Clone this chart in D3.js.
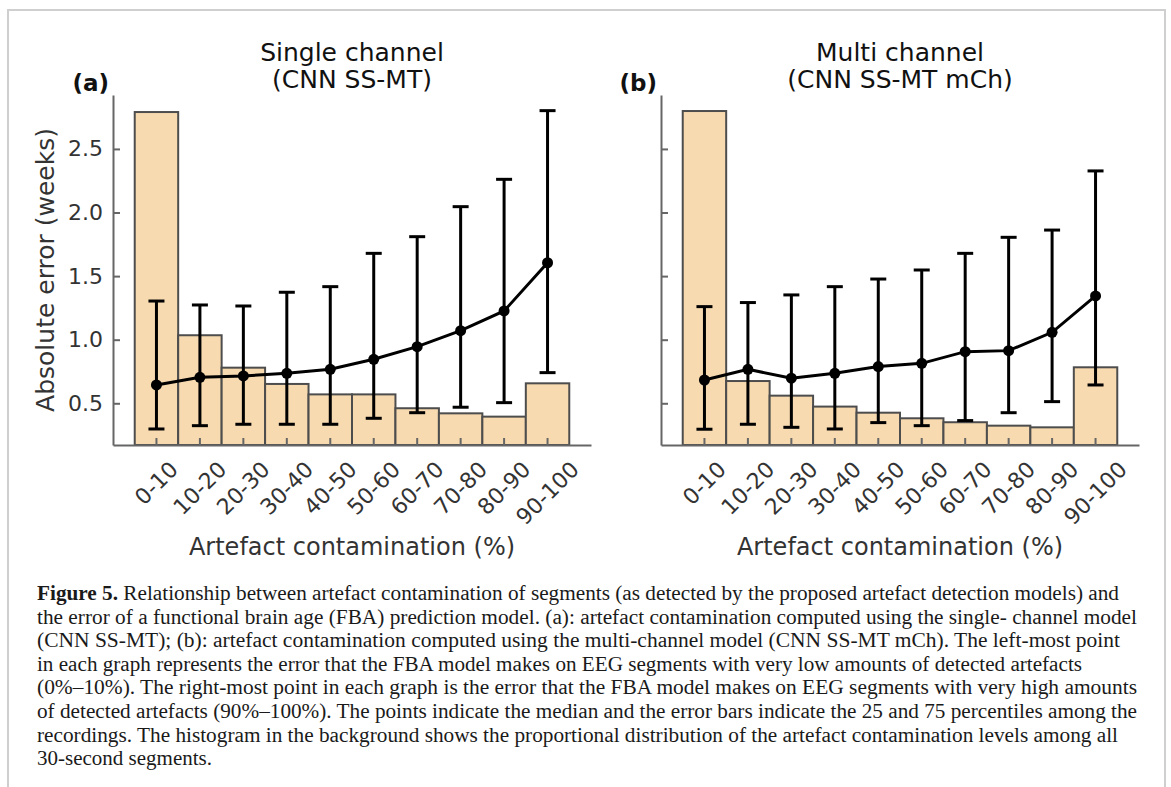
<!DOCTYPE html>
<html lang="en">
  <head>
    <meta charset="UTF-8" />
    <script src="https://d3js.org/d3.v7.min.js"></script>
    <title>Figure 5</title>
    <style>
      body { margin: 0; background: #fff; }
      svg { display: block; }
      .tick text { font-family: 'DejaVu Sans', sans-serif; }
    </style>
  </head>
  <body>
    <script>
      const width = 1171
      const height = 787

      // data
      const categories = ['0-10', '10-20', '20-30', '30-40', '40-50', '50-60', '60-70', '70-80', '80-90', '90-100']
      const yTicks = [0.5, 1.0, 1.5, 2.0, 2.5]

      const histSingle = [2.79, 1.035, 0.78, 0.652, 0.57, 0.57, 0.461, 0.421, 0.395, 0.657]
      const medianSingle = [0.644, 0.704, 0.715, 0.736, 0.767, 0.846, 0.945, 1.071, 1.226, 1.605]
      const q25Single = [0.298, 0.324, 0.335, 0.335, 0.335, 0.382, 0.426, 0.469, 0.505, 0.741]
      const q75Single = [1.304, 1.273, 1.265, 1.373, 1.417, 1.679, 1.81, 2.046, 2.261, 2.801]

      const histMulti = [2.798, 0.675, 0.56, 0.474, 0.426, 0.382, 0.351, 0.324, 0.311, 0.783]
      const medianMulti = [0.683, 0.767, 0.697, 0.736, 0.789, 0.814, 0.906, 0.914, 1.058, 1.344]
      const q25Multi = [0.296, 0.335, 0.311, 0.298, 0.348, 0.324, 0.364, 0.426, 0.513, 0.644]
      const q75Multi = [1.26, 1.292, 1.352, 1.417, 1.477, 1.548, 1.679, 1.805, 1.862, 2.327]

      const captionLines = [
        ['Figure 5.', ' Relationship between artefact contamination of segments (as detected by the proposed artefact detection models) and'],
        ['', 'the error of a functional brain age (FBA) prediction model. (a): artefact contamination computed using the single- channel model'],
        ['', '(CNN SS-MT); (b): artefact contamination computed using the multi-channel model (CNN SS-MT mCh). The left-most point'],
        ['', 'in each graph represents the error that the FBA model makes on EEG segments with very low amounts of detected artefacts'],
        ['', '(0%\u201310%). The right-most point in each graph is the error that the FBA model makes on EEG segments with very high amounts'],
        ['', 'of detected artefacts (90%\u2013100%). The points indicate the median and the error bars indicate the 25 and 75 percentiles among the'],
        ['', 'recordings. The histogram in the background shows the proportional distribution of the artefact contamination levels among all'],
        ['', '30-second segments.']
      ]
      const captionWidths = [1082, 1100, 1083, 1045, 1100, 1100, 1081, 175]

      const svg = d3.select('body')
        .append('svg')
        .attr('width', width)
        .attr('height', height)

      svg.append('rect')
        .attr('width', width)
        .attr('height', height)
        .attr('fill', '#fff')

      // page frame
      svg.append('rect')
        .attr('x', 8)
        .attr('y', 10)
        .attr('width', 1157)
        .attr('height', 820)
        .attr('fill', 'none')
        .attr('stroke', '#cfcfcf')
        .attr('stroke-width', 2)

      const y = d3.scaleLinear()
        .domain([0.172, 2.924])
        .range([445, 95])

      const textColor = '#333'
      const spineColor = '#666'

      function drawPanel(opts) {
        const x = d3.scaleBand()
          .domain(categories)
          .range([opts.left, opts.right])
          .paddingInner(0)
          .paddingOuter(0.5)

        const g = svg.append('g')
        const cx = (opts.left + opts.right) / 2

        // histogram in the background
        g.append('g')
          .selectAll('rect')
          .data(opts.hist)
          .join('rect')
          .attr('x', (d, i) => x(categories[i]))
          .attr('y', d => y(d))
          .attr('width', x.bandwidth())
          .attr('height', d => y.range()[0] - y(d))
          .attr('fill', '#f7dab0')
          .attr('stroke', '#4d4d4d')
          .attr('stroke-width', 2)

        // axes, ticks pointing inwards
        const yAxis = d3.axisLeft(y)
          .tickValues(yTicks)
          .tickSizeInner(-7)
          .tickSizeOuter(0)
          .tickPadding(10)
          .tickFormat(opts.yLabels ? d3.format('.1f') : () => '')
        const ga = g.append('g')
          .attr('transform', `translate(${opts.left},0)`)
          .call(yAxis)
        ga.selectAll('text')
          .attr('font-size', 22)
          .attr('fill', textColor)

        const xAxis = d3.axisBottom(x)
          .tickSizeInner(-7)
          .tickSizeOuter(0)
          .tickFormat(() => '')
        const gx = g.append('g')
          .attr('transform', `translate(0,${y.range()[0]})`)
          .call(xAxis)

        g.selectAll('.domain, .tick line')
          .attr('stroke', spineColor)
          .attr('stroke-width', 2)

        // rotated category labels
        g.append('g')
          .selectAll('text')
          .data(categories)
          .join('text')
          .text(d => d)
          .attr('font-family', 'DejaVu Sans, sans-serif')
          .attr('font-size', 22)
          .attr('fill', textColor)
          .attr('text-anchor', 'middle')
          .attr('dominant-baseline', 'central')
          .each(function (d) {
            const w = this.getComputedTextLength()
            const px = x(d) + x.bandwidth() / 2
            const py = 460 + (w + 16) / (2 * Math.SQRT2)
            d3.select(this).attr('transform', `translate(${px},${py}) rotate(-45)`)
          })

        g.append('text')
          .attr('x', cx)
          .attr('y', 555)
          .attr('text-anchor', 'middle')
          .attr('font-family', 'DejaVu Sans, sans-serif')
          .attr('font-size', 24)
          .attr('fill', textColor)
          .text('Artefact contamination (%)')

        // title
        const title = g.append('text')
          .attr('text-anchor', 'middle')
          .attr('font-family', 'DejaVu Sans, sans-serif')
          .attr('font-size', 25)
          .attr('fill', '#111')
        title.append('tspan').attr('x', cx).attr('y', 61).text(opts.title[0])
        title.append('tspan').attr('x', cx).attr('y', 88).text(opts.title[1])

        g.append('text')
          .attr('x', opts.left - 4)
          .attr('y', 91)
          .attr('text-anchor', 'end')
          .attr('font-family', 'DejaVu Sans, sans-serif')
          .attr('font-weight', 'bold')
          .attr('font-size', 23)
          .attr('fill', '#111')
          .text(opts.tag)

        // error bars, median line and points
        const mid = d => x(d) + x.bandwidth() / 2
        const eb = g.append('g')
        eb.selectAll('line.v')
          .data(categories)
          .join('line')
          .attr('class', 'v')
          .attr('x1', mid).attr('x2', mid)
          .attr('y1', (d, i) => y(opts.q25[i]))
          .attr('y2', (d, i) => y(opts.q75[i]))
        eb.selectAll('line.lo')
          .data(categories)
          .join('line')
          .attr('class', 'lo')
          .attr('x1', d => mid(d) - 8).attr('x2', d => mid(d) + 8)
          .attr('y1', (d, i) => y(opts.q25[i]))
          .attr('y2', (d, i) => y(opts.q25[i]))
        eb.selectAll('line.hi')
          .data(categories)
          .join('line')
          .attr('class', 'hi')
          .attr('x1', d => mid(d) - 8).attr('x2', d => mid(d) + 8)
          .attr('y1', (d, i) => y(opts.q75[i]))
          .attr('y2', (d, i) => y(opts.q75[i]))
        eb.selectAll('line')
          .attr('stroke', '#000')
          .attr('stroke-width', 3)

        const line = d3.line()
          .x((d, i) => mid(categories[i]))
          .y(d => y(d))
        g.append('path')
          .datum(opts.median)
          .attr('d', line)
          .attr('fill', 'none')
          .attr('stroke', '#000')
          .attr('stroke-width', 3)

        g.append('g')
          .selectAll('circle')
          .data(opts.median)
          .join('circle')
          .attr('cx', (d, i) => mid(categories[i]))
          .attr('cy', d => y(d))
          .attr('r', 5.5)
          .attr('fill', '#000')
      }

      drawPanel({
        left: 113, right: 591, hist: histSingle, median: medianSingle,
        q25: q25Single, q75: q75Single, yLabels: true,
        title: ['Single channel', '(CNN SS-MT)'], tag: '(a)'
      })
      drawPanel({
        left: 661, right: 1139, hist: histMulti, median: medianMulti,
        q25: q25Multi, q75: q75Multi, yLabels: false,
        title: ['Multi channel', '(CNN SS-MT mCh)'], tag: '(b)'
      })

      svg.append('text')
        .attr('transform', 'translate(54,270) rotate(-90)')
        .attr('text-anchor', 'middle')
        .attr('font-family', 'DejaVu Sans, sans-serif')
        .attr('font-size', 25)
        .attr('fill', textColor)
        .text('Absolute error (weeks)')

      // caption
      const cap = svg.append('g')
      captionLines.forEach((parts, i) => {
        const t = cap.append('text')
          .attr('x', 37)
          .attr('y', 600 + i * 23.6)
          .attr('font-family', 'Liberation Serif, serif')
          .attr('font-size', 20)
          .attr('fill', '#1a1a1a')
          .attr('textLength', captionWidths[i])
          .attr('lengthAdjust', 'spacingAndGlyphs')
        if (parts[0]) t.append('tspan').attr('font-weight', 'bold').text(parts[0])
        t.append('tspan').text(parts[1])
      })
    </script>
  </body>
</html>
